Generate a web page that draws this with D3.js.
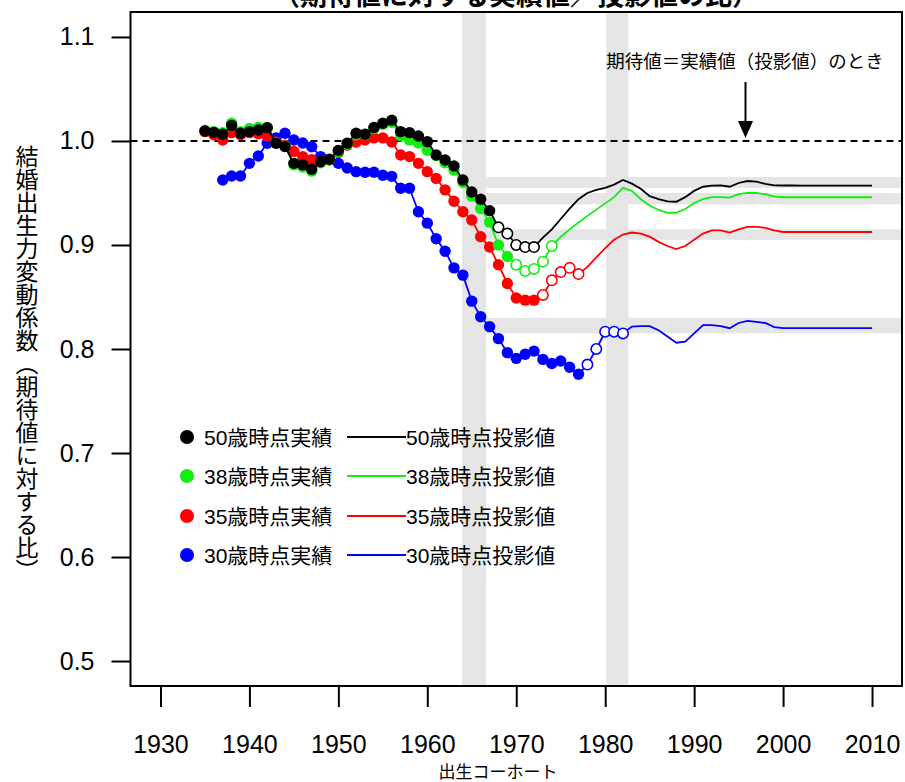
<!DOCTYPE html>
<html><head><meta charset="utf-8">
<script src="https://cdn.jsdelivr.net/npm/d3@7"></script>
<style>
body{margin:0;background:#fff;}
svg{display:block;}
</style></head>
<body>
<svg id="chart" width="905" height="782"></svg>
<script>
// ---- data ----
const xTicks = [1930,1940,1950,1960,1970,1980,1990,2000,2010];
const yTicks = [0.5,0.6,0.7,0.8,0.9,1.0,1.1];

const seriesNames = ["50歳時点","38歳時点","35歳時点","30歳時点"];
const seriesColors = ["#000000","#11ee11","#ff0000","#0000ff"];

// 50歳: actual 1935-1967, open 1968-1972, line 1973-2010
const black_actual_start = 1935;
const black_actual = [1.0096,1.0083,1.0064,1.015,1.0074,1.009,1.0106,1.0128,0.9978,0.9946,0.9785,0.977,0.9728,0.980,0.9824,0.991,0.9978,1.0074,1.0064,1.013,1.017,1.020,1.009,1.008,1.0048,0.9994,0.9865,0.9817,0.976,0.9625,0.951,0.944,0.933];
const black_open = [0.917,0.911,0.900,0.898,0.898];
const black_line = [0.907,0.915,0.925,0.935,0.944,0.950,0.953,0.955,0.958,0.9625,0.959,0.954,0.947,0.944,0.942,0.9416,0.946,0.952,0.956,0.957,0.9574,0.956,0.9596,0.9615,0.961,0.9587,0.9574,0.9572,0.9572,0.9571,0.9571,0.9571,0.957,0.957,0.957,0.957,0.957,0.957];

// 38歳: actual 1935-1969, open 1970-1974, line 1975-2010
const green_actual_start = 1935;
const green_actual = [1.010,1.009,1.008,1.017,1.009,1.012,1.013,1.013,0.998,0.995,0.977,0.975,0.971,0.979,0.982,0.990,0.997,1.006,1.006,1.012,1.016,1.018,1.005,1.001,0.998,0.991,0.986,0.979,0.972,0.960,0.947,0.935,0.922,0.900,0.889];
const green_open = [0.881,0.875,0.877,0.884,0.899];
const green_line = [0.9077,0.915,0.9216,0.928,0.934,0.940,0.946,0.955,0.952,0.944,0.938,0.9337,0.931,0.931,0.9346,0.9404,0.944,0.946,0.946,0.9455,0.949,0.950,0.950,0.9488,0.9466,0.9459,0.9459,0.9459,0.9459,0.9459,0.9459,0.9459,0.9459,0.9459,0.9459,0.9459];

// 35歳: actual 1935-1972, open 1973-1977, line 1978-2010
const red_actual_start = 1935;
const red_actual = [1.009,1.006,1.001,1.008,1.006,1.008,1.007,1.005,0.999,0.996,0.990,0.985,0.982,0.980,0.982,0.989,0.996,0.999,1.001,1.003,1.003,0.999,0.9865,0.985,0.9785,0.9705,0.964,0.953,0.942,0.932,0.924,0.908,0.898,0.881,0.863,0.849,0.847,0.847];
const red_open = [0.852,0.866,0.874,0.878,0.872];
const red_line = [0.879,0.888,0.897,0.905,0.910,0.912,0.911,0.908,0.903,0.899,0.896,0.899,0.905,0.911,0.914,0.914,0.912,0.915,0.9175,0.9175,0.9165,0.914,0.9125,0.9125,0.9125,0.9125,0.9125,0.9125,0.9125,0.9125,0.9125,0.9125,0.9125];

// 30歳: actual 1937-1977, open 1978-1982, line 1983-2010
const blue_actual_start = 1937;
const blue_actual = [0.9625,0.9663,0.9663,0.9785,0.9856,0.9978,1.003,1.0074,1.001,0.998,0.9945,0.985,0.982,0.9785,0.974,0.9705,0.970,0.970,0.967,0.966,0.9545,0.9545,0.932,0.921,0.906,0.894,0.878,0.871,0.846,0.831,0.8215,0.810,0.7965,0.791,0.795,0.798,0.790,0.786,0.7885,0.7824,0.7757];
const blue_open = [0.785,0.800,0.8166,0.8166,0.815];
const blue_line = [0.8215,0.822,0.822,0.818,0.812,0.806,0.807,0.815,0.823,0.823,0.822,0.820,0.825,0.827,0.826,0.825,0.821,0.820,0.820,0.820,0.820,0.820,0.820,0.820,0.820,0.820,0.820,0.820];

// shaded reference bands
const vBands = [[1963.9,1966.6],[1980.1,1982.6]];
const hBandStart = 1964;
const hBands = [[0.955,0.9654],[0.939,0.950],[0.905,0.915],[0.815,0.830]];

const titleText = "（期待値に対する実績値／投影値の比）";
const yTitle = "結婚出生力変動係数（期待値に対する比）";
const xTitle = "出生コーホート";
const noteText = "期待値＝実績値（投影値）のとき";
const legendActual = "実績";
const legendProj = "投影値";

// ---- build ----
function build(start, actual, open, line){
  const a = actual.map((v,i)=>({year:start+i, v:v}));
  const s2 = start + actual.length;
  const o = open.map((v,i)=>({year:s2+i, v:v}));
  const s3 = s2 + open.length;
  const l = line.map((v,i)=>({year:s3+i, v:v}));
  return {actual:a, open:o, all:a.concat(o, l)};
}
const series = [
  build(black_actual_start, black_actual, black_open, black_line),
  build(green_actual_start, green_actual, green_open, green_line),
  build(red_actual_start, red_actual, red_open, red_line),
  build(blue_actual_start, blue_actual, blue_open, blue_line)
];

const L=130.5, R=902, T=12, B=686;
const x = d3.scaleLinear().domain([1926.63, 2013.37]).range([L, R]);
const y = d3.scaleLinear().domain([0.476, 1.124]).range([B, T]);

const svg = d3.select("#chart");
const latin = "'Liberation Sans', Arial, 'Noto Sans CJK JP', sans-serif";
const cjk = "'Noto Sans CJK JP', 'Noto Sans CJK SC', sans-serif";

// title (cut off at top, as in the original)
svg.append("text").attr("x", 516).attr("y", 5).attr("text-anchor","middle")
  .attr("font-family", cjk).attr("font-size", 27).attr("font-weight","bold")
  .attr("fill","#000").text(titleText);

const g = svg.append("g");
const clip = svg.append("clipPath").attr("id","plotclip");
clip.append("rect").attr("x",L).attr("y",T).attr("width",R-L).attr("height",B-T);
const pg = g.append("g").attr("clip-path","url(#plotclip)");

// bands
pg.selectAll("rect.vb").data(vBands).join("rect").attr("class","vb")
  .attr("x", d=>x(d[0])).attr("width", d=>x(d[1])-x(d[0]))
  .attr("y", T).attr("height", B-T).attr("fill","#e5e5e5");
pg.selectAll("rect.hb").data(hBands).join("rect").attr("class","hb")
  .attr("x", x(hBandStart)).attr("width", R - x(hBandStart))
  .attr("y", d=>y(d[1])).attr("height", d=>y(d[0])-y(d[1])).attr("fill","#e5e5e5");

// reference line at 1.0
pg.append("line").attr("x1",L).attr("x2",R).attr("y1",y(1)).attr("y2",y(1))
  .attr("stroke","#000").attr("stroke-width",2).attr("stroke-dasharray","7,5");

// series (draw blue first, black last)
const line = d3.line().x(d=>x(d.year)).y(d=>y(d.v));
[3,2,1,0].forEach(i=>{
  const s = series[i], c = seriesColors[i];
  pg.append("path").attr("d", line(s.all)).attr("fill","none")
    .attr("stroke", c).attr("stroke-width", 1.8);
  pg.selectAll(null).data(s.actual).join("circle")
    .attr("cx", d=>x(d.year)).attr("cy", d=>y(d.v)).attr("r", 5.7)
    .attr("fill", c);
  pg.selectAll(null).data(s.open).join("circle")
    .attr("cx", d=>x(d.year)).attr("cy", d=>y(d.v)).attr("r", 5.2)
    .attr("fill", "#fff").attr("stroke", c).attr("stroke-width", 1.6);
});

// frame
g.append("rect").attr("x",L).attr("y",T).attr("width",R-L).attr("height",B-T)
  .attr("fill","none").attr("stroke","#000").attr("stroke-width",2);

// axes
const yAxis = d3.axisLeft(y).tickValues(yTicks).tickSize(19).tickPadding(17)
  .tickFormat(d3.format(".1f"));
const yg = svg.append("g").attr("transform",`translate(${L},0)`).call(yAxis);
yg.select(".domain").remove();
yg.selectAll(".tick line").attr("stroke","#000").attr("stroke-width",2);
yg.selectAll(".tick text").attr("font-family", latin).attr("font-size",25).attr("fill","#000");

const xAxis = d3.axisBottom(x).tickValues(xTicks).tickSize(21).tickFormat(d3.format("d"));
const xg = svg.append("g").attr("transform",`translate(0,${B})`).call(xAxis);
xg.select(".domain").remove();
xg.selectAll(".tick line").attr("stroke","#000").attr("stroke-width",2);
xg.selectAll(".tick text").attr("font-family", latin).attr("font-size",25).attr("fill","#000")
  .attr("dy",null).attr("y", 753-B);

// axis titles
svg.append("text").attr("x",498).attr("y",778).attr("text-anchor","middle")
  .attr("font-family", cjk).attr("font-size",17).attr("fill","#000").text(xTitle);
svg.append("text").attr("x",27).attr("y",363).attr("text-anchor","middle")
  .attr("font-family", cjk).attr("font-size",23).attr("fill","#000")
  .style("writing-mode","vertical-rl").style("text-orientation","mixed")
  .text(yTitle);

// annotation
svg.append("text").attr("x",745).attr("y",68).attr("text-anchor","middle")
  .attr("font-family", cjk).attr("font-size",18.5).attr("fill","#000").text(noteText);
const ax = 745.5;
svg.append("line").attr("x1",ax).attr("x2",ax).attr("y1",82).attr("y2",124)
  .attr("stroke","#000").attr("stroke-width",2);
svg.append("path").attr("d",`M${ax-7.5},121 L${ax+7.5},121 L${ax},138 Z`).attr("fill","#000");

// legend
const lg = svg.append("g");
const rowY = [437,476,516,555];
seriesNames.forEach((n,i)=>{
  const yy = rowY[i];
  lg.append("circle").attr("cx",187).attr("cy",yy).attr("r",7).attr("fill",seriesColors[i]);
  lg.append("text").attr("x",204).attr("y",yy+7.5).attr("font-family",latin)
    .attr("font-size",21).attr("fill","#000").text(n+legendActual);
  lg.append("line").attr("x1",347).attr("x2",406).attr("y1",yy).attr("y2",yy)
    .attr("stroke",seriesColors[i]).attr("stroke-width",2);
  lg.append("text").attr("x",406).attr("y",yy+7.5).attr("font-family",latin)
    .attr("font-size",21).attr("fill","#000").text(n+legendProj);
});
</script>
</body></html>
